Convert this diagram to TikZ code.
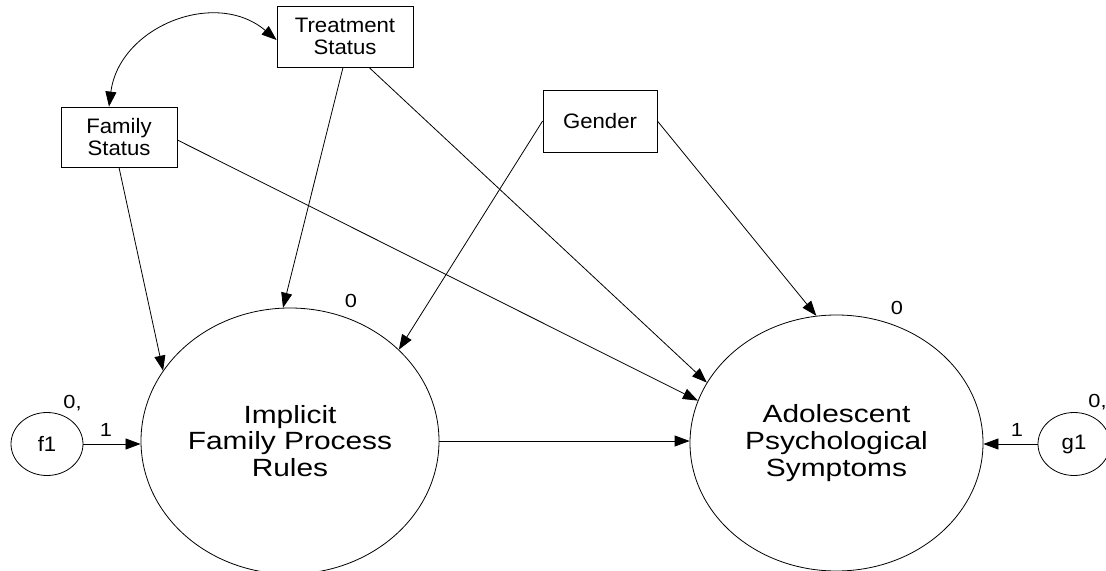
\documentclass[tikz,border=0pt]{standalone}
\usepackage{fontspec}
\setmainfont{Liberation Sans}
\newfontfamily\boxfont[FakeStretch=1.06]{Liberation Sans}
\newfontfamily\bigfont[FakeStretch=1.2]{Liberation Sans}
\newfontfamily\lblfont[FakeStretch=1.15]{Liberation Sans}
\usetikzlibrary{arrows.meta,shapes.geometric}
\begin{document}
\begin{tikzpicture}[x=1bp,y=-1bp,
  obs/.style={draw, line width=0.8bp, rectangle, inner sep=0pt, align=center,
    font=\boxfont\fontsize{21}{22}\selectfont},
  lat/.style={draw, line width=0.8bp, ellipse, inner sep=0pt, align=center,
    font=\bigfont\fontsize{25}{27}\selectfont},
  errv/.style={draw, line width=0.8bp, ellipse, inner sep=0pt,
    minimum width=72bp, minimum height=63bp,
    font=\boxfont\fontsize{21}{22}\selectfont},
  lbl/.style={inner sep=0pt, font=\lblfont\fontsize{19}{19}\selectfont},
  arr/.style={-{Triangle[length=15bp,width=11bp]}, line width=0.8bp},
  cov/.style={{Triangle[length=15bp,width=11bp]}-{Triangle[length=15bp,width=11bp]}, line width=0.8bp}
]
\useasboundingbox (0,0) rectangle (1106,571);

% observed variables
\node[obs, minimum width=136bp, minimum height=61bp] (treat) at (345,36.5) {Treatment\\Status};
\node[obs, minimum width=116bp, minimum height=60bp] (fam) at (119,137) {Family\\Status};
\node[obs, minimum width=114bp, minimum height=62bp] (gen) at (600,121) {Gender};

% latent variables
\node[lat, minimum width=298bp, minimum height=266bp] (imp) at (290,441) {Implicit\\Family Process\\Rules};
\node[lat, minimum width=293bp, minimum height=256bp] (adol) at (836.5,443) {Adolescent\\Psychological\\Symptoms};

% error terms
\node[errv] (f1) at (47,444) {f1};
\node[errv] (g1) at (1074,444) {g1};

% labels
\node[lbl] (l0a) at (351,301) {0};
\node[lbl] (l0b) at (897,308) {0};
\node[lbl] (l0f) at (72.5,403) {0,};
\node[lbl] (l0g) at (1097.5,402) {0,};
\node[lbl] (l1f) at (106,430) {1};
\node[lbl] (l1g) at (1017,430) {1};

% covariance
\draw[cov] ([xshift=-10bp]fam.north) .. controls (119.2,26.9) and (215.2,-11.9) .. ([yshift=-3.5bp]treat.west);

% regression paths
\draw[arr] ([xshift=-2bp]treat.south) -- (imp.93);
\draw[arr] ([xshift=24bp]treat.south) -- (adol.155);
\draw[arr] (fam.south) -- (imp.151);
\draw[arr] ([yshift=-3bp]fam.east) -- (adol.163);
\draw[arr] (gen.west) -- (imp.40);
\draw[arr] (gen.east) -- (adol.99.5);
\draw[arr] (imp.east) -- (imp.east -| adol.west);
\draw[arr] (f1.east) -- (f1.east -| imp.west);
\draw[arr] (g1.west) -- (g1.west -| adol.east);
\end{tikzpicture}
\end{document}
